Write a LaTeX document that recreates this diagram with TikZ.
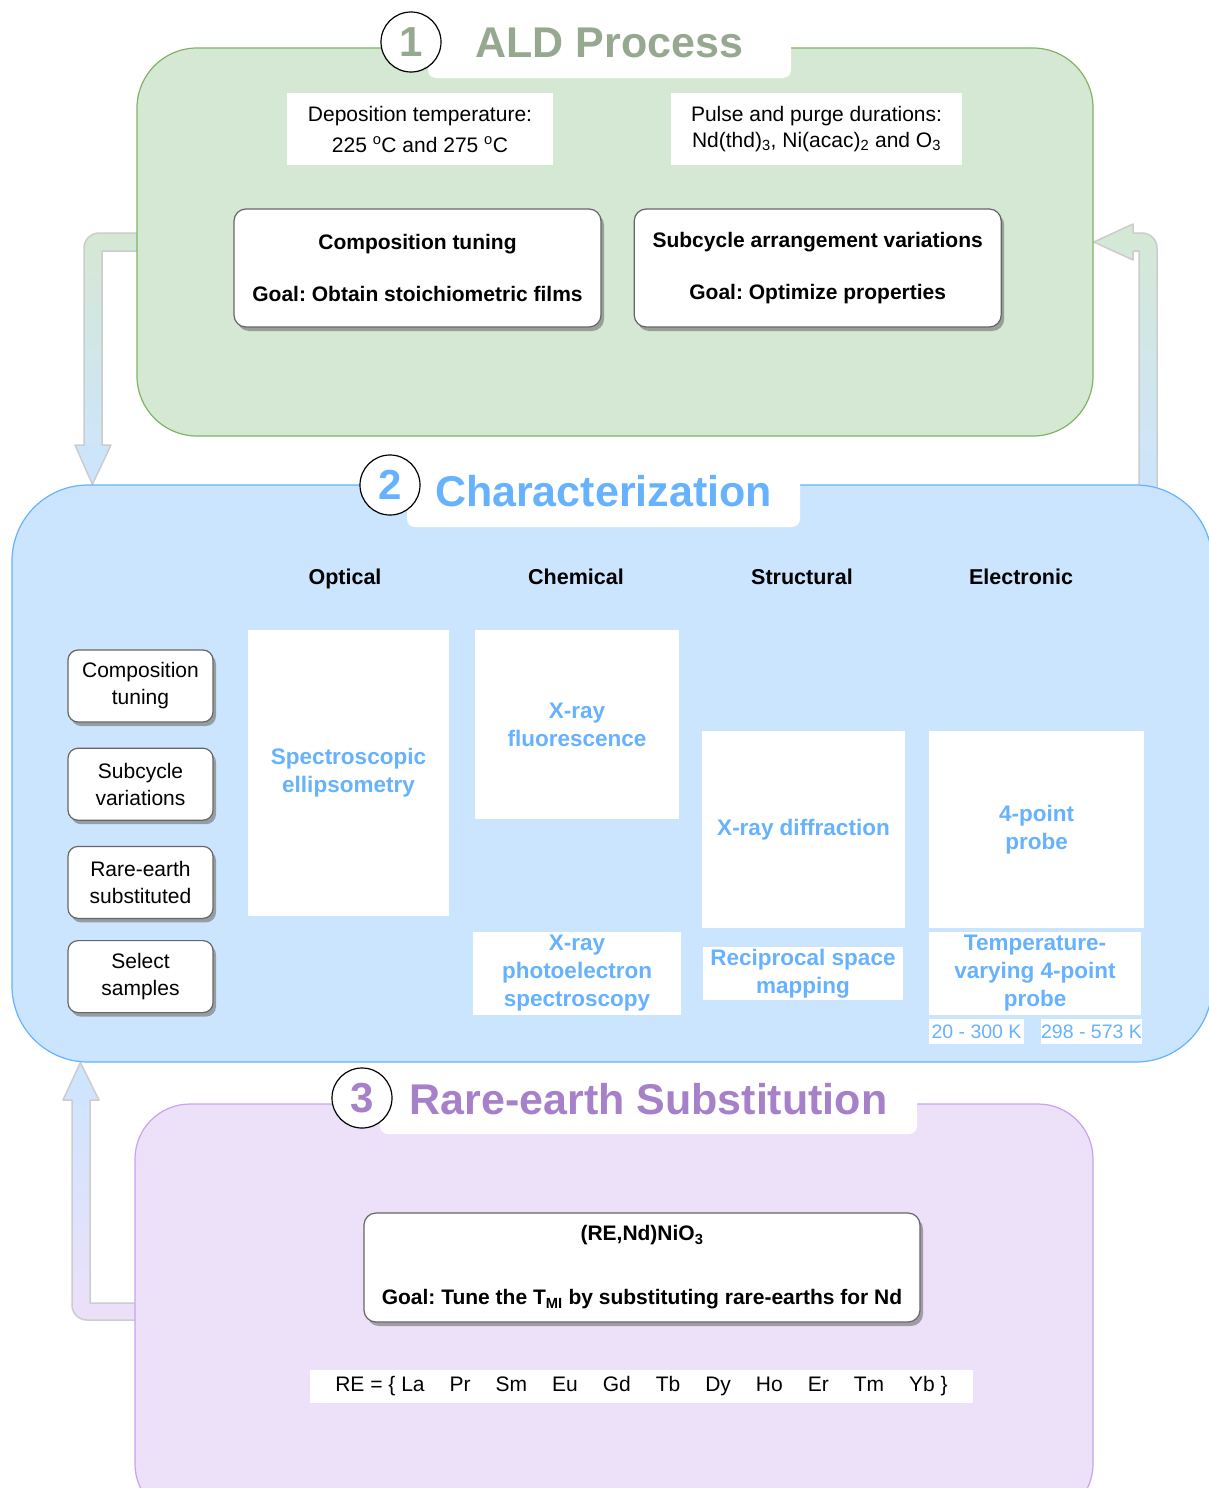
\documentclass[tikz,border=0pt]{standalone}
\usepackage{fontspec}
\setmainfont{Liberation Sans}
\usetikzlibrary{arrows.meta, positioning, shapes.geometric, calc, shadows, backgrounds}
\definecolor{GreenFill}{HTML}{D5E8D4}
\definecolor{GreenLine}{HTML}{82B366}
\definecolor{BlueFill}{HTML}{CCE5FF}
\definecolor{BlueLine}{HTML}{66B2FF}
\definecolor{PurpleFill}{HTML}{EDE0F9}
\definecolor{PurpleLine}{HTML}{C9A3EE}
\definecolor{AldGray}{HTML}{97A890}
\definecolor{CharBlue}{HTML}{66B2FF}
\definecolor{RePurple}{HTML}{A680C9}
\definecolor{ArrowLine}{HTML}{CCCCCC}
\frenchspacing

\begin{document}
\begin{tikzpicture}[x=1pt, y=-1pt,
    panel/.style={rectangle, line width=1.2pt, inner sep=0pt},
    titletab/.style={fill=white, rounded corners=8pt, inner sep=0pt, font=\bfseries\fontsize{43}{50}\selectfont},
    numcirc/.style={circle, draw=black, fill=white, line width=1.2pt, minimum size=60pt, inner sep=0pt, font=\bfseries\fontsize{42}{50}\selectfont},
    goalbox/.style={draw=black!60, fill=white, line width=1.2pt, rounded corners=12pt, align=center, inner sep=0pt, font=\bfseries\fontsize{21}{27}\selectfont, drop shadow={shadow xshift=3pt, shadow yshift=-4pt, fill=black!50, opacity=0.7}},
    samplebox/.style={draw=black!60, fill=white, line width=1.2pt, rounded corners=10pt, align=center, inner sep=0pt, minimum width=145pt, minimum height=72pt, font=\fontsize{21}{27}\selectfont, drop shadow={shadow xshift=3pt, shadow yshift=-4pt, fill=black!50, opacity=0.7}},
    infobox/.style={fill=white, inner sep=0pt, align=center, font=\fontsize{21}{26}\selectfont},
    header/.style={anchor=base, font=\bfseries\fontsize{21.5}{26}\selectfont},
    method/.style={fill=white, inner sep=0pt, align=center, text=CharBlue, font=\bfseries\fontsize{22.5}{28}\selectfont},
    rangebox/.style={fill=white, inner sep=0pt, text=CharBlue, font=\fontsize{19.5}{24}\selectfont},
    bigarrow/.style={draw=ArrowLine, line width=1.5pt, line join=round}]
  \useasboundingbox (0,0) rectangle (1209,1488);
  \clip (0,0) rectangle (1209,1488);

  % three stages
  \node[panel, draw=GreenLine, fill=GreenFill, rounded corners=60pt, minimum width=956pt, minimum height=388pt] (ald) at (615,242) {};
  \node[panel, draw=BlueLine, fill=BlueFill, rounded corners=76pt, minimum width=1200pt, minimum height=577pt] (charz) at (612,773.5) {};
  \node[panel, draw=PurpleLine, fill=PurpleFill, rounded corners=55pt, minimum width=958pt, minimum height=415pt] (rese) at (614,1311.5) {};

  % titles
  \node[titletab, text=AldGray, minimum width=363pt, minimum height=70pt] (aldtitle) at (609.5,43) {ALD Process};
  \node[numcirc, text=AldGray] (aldnum) at (411,42) {1};
  \node[titletab, text=CharBlue, minimum width=393pt, minimum height=72pt] (chartitle) at (603.5,491) {Characterization};
  \node[numcirc, text=CharBlue] (charnum) at (390,485) {2};
  \node[titletab, text=RePurple, minimum width=537pt, minimum height=69pt] (retitle) at (648.5,1099.5) {Rare-earth Substitution};
  \node[numcirc, text=RePurple] (renum) at (362,1098) {3};

  % ALD process
  \node[infobox, minimum width=266pt, minimum height=72pt] (deptemp) at (420,129) {Deposition temperature:\\[5pt]225 \textsuperscript{o}C and 275 \textsuperscript{o}C};
  \node[infobox, minimum width=291pt, minimum height=72pt] (pulse) at (816.5,129) {Pulse and purge durations:\\Nd(thd)\textsubscript{3}, Ni(acac)\textsubscript{2} and O\textsubscript{3}};
  \node[goalbox, minimum width=367pt, minimum height=118pt] (comptune) at (417.5,268) {Composition tuning\\[25pt]Goal: Obtain stoichiometric films};
  \node[goalbox, minimum width=367pt, minimum height=118pt, right=32pt of comptune] (subcyc) {Subcycle arrangement variations\\[25pt]Goal: Optimize properties};

  % characterization
  \node[header] (optical) at (345,584) {Optical};
  \node[header] (chemical) at (576,584) {Chemical};
  \node[header] (structural) at (802,584) {Structural};
  \node[header] (electronic) at (1021,584) {Electronic};

  \node[samplebox] (sbcomp) at (140.5,686) {Composition\\tuning};
  \node[samplebox, below=25pt of sbcomp] (sbsub) {Subcycle\\variations};
  \node[samplebox, below=25pt of sbsub] (sbre) {Rare-earth\\substituted};
  \node[samplebox, below=21pt of sbre] (sbsel) {Select\\samples};

  \node[method, minimum width=201pt, minimum height=286pt] (ellips) at (348.5,773) {Spectroscopic\\ellipsometry};
  \node[method, minimum width=204pt, minimum height=189pt] (xrf) at (577,724.5) {X-ray\\fluorescence};
  \node[method, minimum width=203pt, minimum height=197pt] (xrd) at (803.5,829.5) {X-ray diffraction};
  \node[method, minimum width=215pt, minimum height=197pt] (fpp) at (1036.5,829.5) {4-point\\probe};
  \node[method, minimum width=208pt, minimum height=83pt] (xps) at (577,973.5) {X-ray\\photoelectron\\spectroscopy};
  \node[method, minimum width=200pt, minimum height=53pt] (rsm) at (803,973.5) {Reciprocal space\\mapping};
  \node[method, minimum width=212pt, minimum height=83pt] (tfpp) at (1035,973.5) {Temperature-\\varying 4-point\\probe};
  \node[rangebox, minimum width=95pt, minimum height=25pt] (lowT) at (976.5,1031.5) {20 - 300 K};
  \node[rangebox, minimum width=101pt, minimum height=25pt] (highT) at (1091.5,1031.5) {298 - 573 K};

  % rare-earth substitution
  \node[goalbox, minimum width=556pt, minimum height=109pt] (tmigoal) at (642,1267.5) {(RE,Nd)NiO\textsubscript{3}\\[37pt]Goal: Tune the T\textsubscript{MI} by substituting rare-earths for Nd};
  \node[infobox, minimum width=663pt, minimum height=33pt] (relist) at (641.5,1386.5) {RE = \{ La\hspace{25pt}Pr\hspace{25pt}Sm\hspace{25pt}Eu\hspace{25pt}Gd\hspace{25pt}Tb\hspace{25pt}Dy\hspace{25pt}Ho\hspace{25pt}Er\hspace{25pt}Tm\hspace{25pt}Yb \}};

  % loop arrows
  \coordinate (charin) at ($(charz.north west)+(81,0)$);
  \coordinate (charback) at ($(charz.south west)+(69,0)$);
  \begin{scope}[on background layer]
    \fill[white] (0,0) rectangle (1209,1488);
    \draw[bigarrow, top color=GreenFill, bottom color=BlueFill]
      ([xshift=10pt, yshift=9pt]ald.west) -- (99,233) arc[start angle=90, end angle=180, radius=15pt]
      -- (84,445) -- (75,445) -- (charin) -- (111,445) -- (102,445) -- (102,251)
      -- ([xshift=10pt, yshift=-9pt]ald.west) -- cycle;
    \draw[bigarrow, top color=GreenFill, bottom color=BlueFill]
      (1139,495) -- (1139,251) -- (1133,251) -- (1133,260) -- (ald.east) -- (1133,224) -- (1133,233)
      -- (1142,233) arc[start angle=90, end angle=0, radius=15pt] -- (1157,495) -- cycle;
    \draw[bigarrow, top color=BlueFill, bottom color=PurpleFill]
      ([xshift=10pt, yshift=8.5pt]rese.west) -- (90,1303) -- (90,1100) -- (99,1100) -- (charback)
      -- (63,1100) -- (72,1100) -- (72,1305) arc[start angle=180, end angle=270, radius=15pt]
      -- ([xshift=10pt, yshift=-8.5pt]rese.west) -- cycle;
  \end{scope}
\end{tikzpicture}
\end{document}
